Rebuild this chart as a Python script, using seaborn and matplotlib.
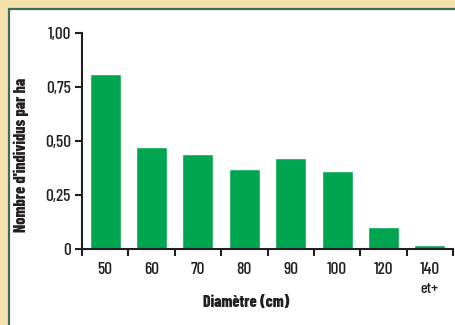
import matplotlib
matplotlib.use("Agg")
import matplotlib.pyplot as plt
import matplotlib.font_manager as fm
from matplotlib.patches import Rectangle
from matplotlib.transforms import blended_transform_factory
import seaborn as sns
import pandas as pd

# Data: number of trees per hectare by diameter class
diameters = ["50", "60", "70", "80", "90", "100", "120", "140"]
trees_per_ha = [0.81, 0.47, 0.44, 0.37, 0.42, 0.36, 0.10, 0.02]
y_ticks = [0, 0.25, 0.50, 0.75, 1.00]
y_tick_labels = ["0", "0,25", "0,50", "0,75", "1,00"]

sns.set_theme(style="white")

available = {f.name for f in fm.fontManager.ttflist}
family = next((n for n in ("Barlow Condensed", "Asap Condensed", "Archivo Narrow")
               if n in available), "DejaVu Sans")
plt.rcParams["font.family"] = [family, "DejaVu Sans"]

ink = "#231f20"
df = pd.DataFrame({"diam": diameters, "n": trees_per_ha})

fig = plt.figure(figsize=(4.55, 3.25), dpi=100)
fig.patch.set_facecolor("#f5e1ab")

# white panel with a green frame on the top and left sides
panel = Rectangle((9 / 455, -0.1), 1.2, 1.1 - 8.5 / 325, transform=fig.transFigure,
                  facecolor="white", edgecolor="#3f6e52", linewidth=1.6, zorder=-1)
fig.patches.append(panel)

ax = fig.add_axes([82 / 455, 1 - 249 / 325, (453 - 82) / 455, (249 - 33) / 325])
ax.set_facecolor("none")

sns.barplot(data=df, x="diam", y="n", color="#00a64f", saturation=1,
            width=0.67, ax=ax)

ax.set_xlim(-0.5, len(diameters) - 0.5)
ax.set_ylim(0, 1.0)

# major ticks mark class boundaries, labels sit at class centres
ax.set_xticks([i - 0.5 for i in range(len(diameters) + 1)])
ax.set_xticklabels([])
ax.set_xticks(range(len(diameters)), minor=True)
ax.set_xticklabels(diameters, minor=True, fontsize=12.5, fontweight=500, color=ink)
ax.tick_params(axis="x", which="major", direction="out", length=5, width=1.5,
               color=ink, bottom=True)
ax.tick_params(axis="x", which="minor", length=0, pad=9, bottom=True)

ax.set_yticks(y_ticks)
ax.set_yticklabels(y_tick_labels, fontsize=12.5, fontweight=500, color=ink)
ax.tick_params(axis="y", direction="out", length=5, width=1.5, color=ink,
               left=True, pad=3)

trans = blended_transform_factory(ax.transData, ax.transAxes)
ax.text(7, -0.155, "et+", transform=trans, ha="center", va="top",
        fontsize=11.5, fontweight=500, color=ink)

for side in ("top", "right"):
    ax.spines[side].set_visible(False)
for side in ("left", "bottom"):
    ax.spines[side].set_color(ink)
    ax.spines[side].set_linewidth(1.5)

ax.set_xlabel("Diamètre (cm)", fontsize=11.5, fontweight=800, color=ink)
ax.xaxis.set_label_coords(0.442, -0.25)
ax.xaxis.label.set_va("center")

ax.set_ylabel("Nombre d'individus par ha", fontsize=11.5, fontweight=800, color=ink)
ax.yaxis.set_label_coords(-0.163, 0.435)
ax.yaxis.label.set_va("center")

fig.savefig("out.png", dpi=100, facecolor=fig.get_facecolor())
